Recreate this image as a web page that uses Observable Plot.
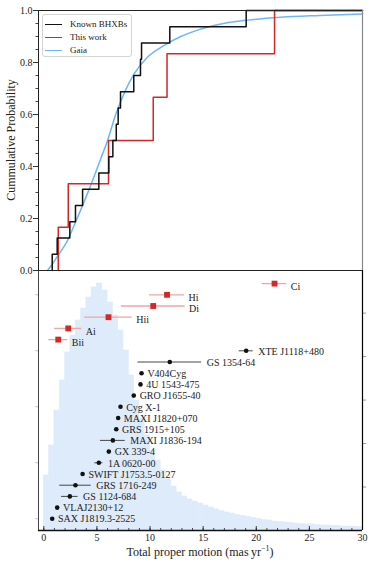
<!DOCTYPE html>
<html><head><meta charset="utf-8">
<script src="https://cdn.jsdelivr.net/npm/d3@7"></script>
<script src="https://cdn.jsdelivr.net/npm/@observablehq/plot@0.6"></script>
<style>
body{margin:0;background:#fff;}
#wrap{position:relative;width:374px;height:567px;overflow:hidden;font-family:"Liberation Serif",serif;color:#222;}
#wrap svg{position:absolute;left:0;top:0;}
.legend{position:absolute;left:42px;top:14px;width:90px;height:43px;border:1px solid #d4d4d4;border-radius:3px;background:rgba(255,255,255,0.85);font-size:9px;padding-top:2.5px;box-sizing:border-box;white-space:nowrap;overflow:hidden;}
.legend .row{display:flex;align-items:center;height:13px;}
.legend .sw{flex:none;width:17px;height:0;border-top:1.6px solid;margin-left:2px;margin-right:8px;}
.xlabel{position:absolute;left:38px;width:324px;top:545px;text-align:center;font-size:12px;line-height:14px;}
.xlabel sup{font-size:8px;line-height:0;}
.ylabel{position:absolute;left:-89px;top:133px;width:200px;text-align:center;font-size:12px;line-height:14px;transform:rotate(-90deg);}
</style>
</head><body>
<div id="wrap"></div>
<script>
// ---- data ----
const knownNames = ["SAX J1819.3-2525","VLAJ2130+12","GS 1124-684","GRS 1716-249","SWIFT J1753.5-0127","1A 0620-00","GX 339-4","MAXI J1836-194","GRS 1915+105","MAXI J1820+070","Cyg X-1","GRO J1655-40","4U 1543-475","V404Cyg","GS 1354-64","XTE J1118+480"];
const knownPM  = [0.79,1.26,2.45,2.98,3.65,5.18,6.12,6.5,6.82,7.0,7.22,8.47,9.1,9.2,11.86,19.05];
const knownErr = [0.08,0.08,0.78,1.48,0.08,0.38,0.08,1.17,0.08,0.06,0.06,0.08,0.08,0.08,3.0,0.66];

const workNames = ["Bii","Ai","Hii","Di","Hi","Ci"];
const workPM  = [1.36,2.3,6.09,10.3,11.6,21.72];
const workErr = [0.9,1.27,2.23,3.0,1.65,1.15];

const gaiaX = [0.35,0.8,1.44,2.23,2.92,3.8,4.58,5.36,6.0,6.77,7.6,8.5,9.75,11.3,12.9,13.8,16.0,19.2,22.3,26,30];
const gaiaP = [0,0.025,0.064,0.115,0.18,0.265,0.345,0.43,0.5,0.6,0.685,0.756,0.82,0.865,0.9,0.915,0.942,0.963,0.974,0.981,0.987];

const histBinWidth = 0.5;
const histCounts = [25.3,39.1,55.2,69,81.9,89.7,96.6,102.1,107.2,111.8,113.6,110.4,104.9,98.9,92,82.8,71.3,59.8,51.5,43.7,36.8,32.2,27.6,23.5,20.2,17.5,15.6,14.3,13.3,12.4,11.5,10.6,9.7,9,8.3,7.8,7.1,6.7,6.2,5.8,5.3,4.8,4.6,4.1,3.9,3.7,3.5,3.2,3,2.8,2.8,2.5,2.3,2.3,2.1,2.1,1.8,1.8,1.8,1.6];

const xMajor = [0,5,10,15,20,25,30];
const xMinor = d3.range(0,31,1);
const yMajor = [0,0.2,0.4,0.6,0.8,1.0];
const yMinor = d3.range(0,1.0001,0.05);
const histTicks = [20,40,60,80,100];
const rankTicks = [1,6,11,16,21];

// ---- colours ----
const cKnown = "#111", cWork = "#d62728", cWorkErr = "#f2a3a3", cGaia = "#6cb6fb", cHist = "#deebfa";

// ---- tables ----
const known = knownNames.map((n,i)=>({name:n, pm:knownPM[i], err:knownErr[i], group:"known"}));
const work = workNames.map((n,i)=>({name:n, pm:workPM[i], err:workErr[i], group:"work"}));
const points = [...known, ...work].map((d,i)=>({...d, rank:i+1}));
const gaia = gaiaX.map((x,i)=>({x, p:gaiaP[i]}));
const hist = histCounts.map((v,i)=>({x1:i*histBinWidth, x2:(i+1)*histBinWidth, v}));
function cdf(values){
  const s = values.slice().sort((a,b)=>a-b), n = s.length;
  const out = [{x:s[0], p:0}];
  s.forEach((v,i)=>out.push({x:v, p:(i+1)/n}));
  out.push({x:30, p:1});
  return out;
}
const cdfKnown = cdf(knownPM), cdfWork = cdf(workPM);

const xDomain = [-0.5, 30];
const style = {background:"transparent", fontFamily:"Liberation Serif, serif", fontSize:"10px", color:"#222", overflow:"visible"};
const base = {width:374, marginLeft:38, marginRight:12, style, x:{domain:xDomain, axis:null}};

// histogram layer
const histPlot = Plot.plot({
  ...base, height:567, marginTop:270, marginBottom:37,
  y:{domain:[0,119.6], axis:null},
  marks:[
    Plot.rectY(hist, {x1:"x1", x2:"x2", y:"v", fill:cHist, stroke:cHist, strokeWidth:0.6}),
    Plot.axisY({anchor:"right", ticks:histTicks, tickSize:3, text:null, label:null, stroke:"#999"})
  ]
});

// points layer
const ptPlot = Plot.plot({
  ...base, height:567, marginTop:270, marginBottom:37,
  y:{domain:[-0.045,23.17], axis:null},
  marks:[
    Plot.axisY({ticks:rankTicks, tickSize:2.5, text:null, label:null, stroke:"#bbb"}),
    Plot.ruleY(points.filter(d=>d.group==="work"), {y:"rank", x1:d=>d.pm-d.err, x2:d=>d.pm+d.err, stroke:cWorkErr, strokeWidth:1.3}),
    Plot.ruleY(points.filter(d=>d.group==="known"), {y:"rank", x1:d=>d.pm-d.err, x2:d=>d.pm+d.err, stroke:"#333", strokeWidth:0.9}),
    Plot.dot(points.filter(d=>d.group==="known"), {x:"pm", y:"rank", r:2.3, fill:cKnown}),
    Plot.dot(points.filter(d=>d.group==="work"), {x:"pm", y:"rank", r:3.3, symbol:"square", fill:cWork}),
    Plot.text(points.filter(d=>d.group==="known"), {x:d=>d.pm+d.err, y:"rank", text:"name", textAnchor:"start", dx:5, dy:0.5, fill:"#222", fontSize:10}),
    Plot.text(points.filter(d=>d.group==="work"), {x:d=>d.pm+d.err, y:"rank", text:"name", textAnchor:"start", dx:4, dy:3, fill:"#222", fontSize:10}),
    Plot.ruleX(xMinor, {x:d=>d, insetTop:258, stroke:"#222", strokeWidth:0.8}),
    Plot.ruleX(xMajor, {x:d=>d, insetTop:256, stroke:"#222", strokeWidth:0.9}),
    Plot.axisX({ticks:xMajor, tickSize:0, tickPadding:3, tickFormat:d=>String(d), label:null}),
    Plot.ruleX([xDomain[0]], {stroke:"#444", strokeWidth:1}),
    Plot.ruleX([xDomain[1]], {stroke:"#000", strokeWidth:1.2}),
    Plot.ruleY([-0.045], {stroke:"#111", strokeWidth:1.3})
  ]
});

// top CDF layer
const topPlot = Plot.plot({
  ...base, height:272, marginTop:10, marginBottom:2,
  y:{domain:[0,1], axis:null},
  marks:[
    Plot.axisY({ticks:yMinor, tickSize:2.5, text:null, label:null, stroke:"#444"}),
    Plot.axisY({ticks:yMajor, tickSize:5, tickPadding:1, tickFormat:".1f", label:null, stroke:"#333"}),
    Plot.line(gaia, {x:"x", y:"p", curve:"monotone-x", stroke:cGaia, strokeWidth:1.5}),
    Plot.line(cdfWork, {x:"x", y:"p", curve:"step-after", stroke:cWork, strokeWidth:1.5}),
    Plot.line(cdfKnown, {x:"x", y:"p", curve:"step-after", stroke:cKnown, strokeWidth:1.5}),
    Plot.ruleX([xDomain[0]], {stroke:"#222", strokeWidth:1}),
    Plot.ruleX([xDomain[1]], {stroke:"#888", strokeWidth:1.2}),
    Plot.ruleY([1], {stroke:"#222", strokeWidth:1}),
    Plot.ruleY([0], {stroke:"#222", strokeWidth:1.2})
  ]
});

const wrap = document.getElementById("wrap");
wrap.append(histPlot, ptPlot, topPlot);

const legend = document.createElement("div");
legend.className = "legend";
[["Known BHXBs", cKnown],["This work", cWork],["Gaia", cGaia]].forEach(([t,c])=>{
  const row = document.createElement("div"); row.className="row";
  const sw = document.createElement("span"); sw.className="sw"; sw.style.borderTopColor=c;
  const tx = document.createElement("span"); tx.textContent=t;
  row.append(sw, tx); legend.append(row);
});
wrap.append(legend);

const xl = document.createElement("div"); xl.className="xlabel";
xl.innerHTML = "Total proper motion (mas\u2009yr<sup>\u22121</sup>)";
wrap.append(xl);
const yl = document.createElement("div"); yl.className="ylabel";
yl.textContent = "Cummulative Probability";
wrap.append(yl);
</script>
</body></html>
